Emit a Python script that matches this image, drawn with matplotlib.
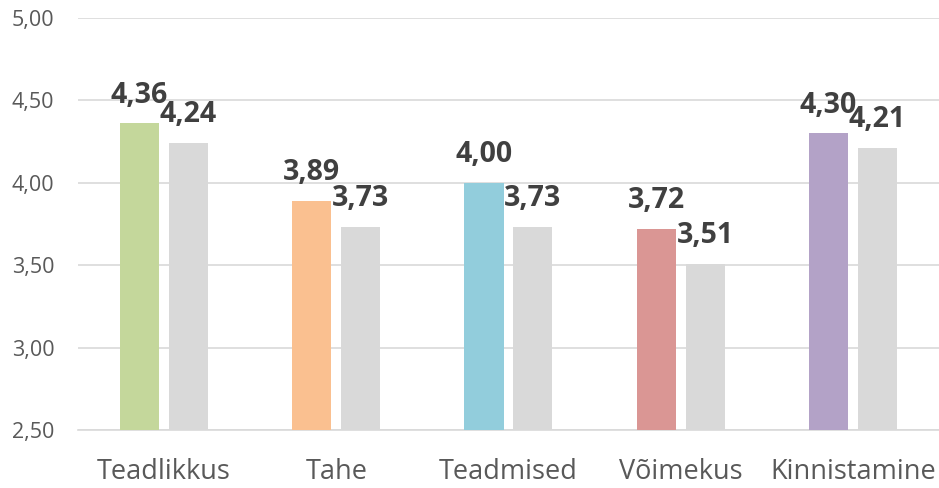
import numpy as np
import matplotlib.pyplot as plt
from matplotlib.ticker import FuncFormatter

categories = ['Teadlikkus', 'Tahe', 'Teadmised', 'Võimekus', 'Kinnistamine']
group_values = [4.36, 3.89, 4.00, 3.72, 4.30]
overall_values = [4.24, 3.73, 3.73, 3.51, 4.21]
group_colors = ['#c4d79b', '#fac090', '#92cddc', '#da9694', '#b3a2c7']
overall_color = '#d9d9d9'

plt.rcParams['font.family'] = ['Open Sans', 'DejaVu Sans']

fig = plt.figure(figsize=(9.39, 4.88), dpi=100)
ax = fig.add_axes([0.083, 0.119, 0.917, 0.844])

x = np.arange(len(categories))
w = 0.227
off = 0.142
b1 = ax.bar(x - off, np.array(group_values) - 2.5, w, bottom=2.5, color=group_colors, zorder=3)
b2 = ax.bar(x + off, np.array(overall_values) - 2.5, w, bottom=2.5, color=overall_color, zorder=3)

def fmt(v):
    return f'{v:.2f}'.replace('.', ',')

for xs, vals in ((x - off, group_values), (x + off, overall_values)):
    for xi, v in zip(xs, vals):
        ax.annotate(fmt(v), (xi, v), xytext=(0, 15), textcoords='offset points',
                    ha='center', va='baseline', fontsize=20.5, fontweight='bold',
                    color='#404040', zorder=5)

ax.set_xlim(-0.5, len(categories) - 0.5)
ax.set_ylim(2.5, 5.0)
ax.set_yticks([2.5, 3.0, 3.5, 4.0, 4.5, 5.0])
ax.yaxis.set_major_formatter(FuncFormatter(lambda v, p: fmt(v)))
ax.set_xticks(x)
ax.set_xticklabels(categories)
ax.grid(axis='y', color='#d9d9d9', linewidth=1.2, zorder=0)
for s in ['top', 'right', 'left']:
    ax.spines[s].set_visible(False)
ax.spines['bottom'].set_color('#d9d9d9')
ax.spines['bottom'].set_linewidth(1.2)
ax.tick_params(axis='y', length=0, pad=17, labelsize=15.5, labelcolor='#595959')
ax.tick_params(axis='x', length=0, pad=20, labelsize=19.5, labelcolor='#595959')

fig.savefig('out.png', dpi=100)
